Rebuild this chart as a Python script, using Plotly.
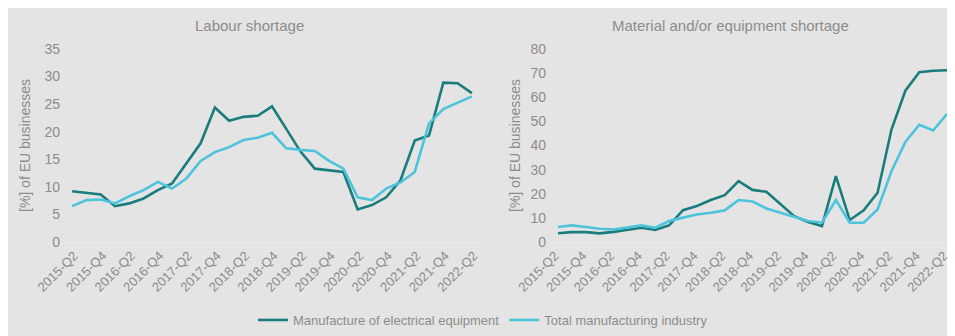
import plotly.graph_objects as go
from plotly.subplots import make_subplots

quarters = [f"{y}-Q{q}" for y in range(2015, 2023) for q in range(1, 5)][1:30]
labour_electrical = [9.2, 8.9, 8.6, 6.5, 7.0, 7.9, 9.4, 10.6, 14.3, 17.9, 24.4, 22.0, 22.7, 22.9, 24.6,
                     20.6, 16.4, 13.3, 13.0, 12.7, 5.9, 6.7, 8.1, 11.2, 18.4, 19.3, 28.9, 28.8, 27.0]
labour_total = [6.5, 7.6, 7.7, 7.0, 8.3, 9.4, 10.9, 9.7, 11.5, 14.7, 16.3, 17.2, 18.5, 18.9, 19.8,
                17.0, 16.7, 16.5, 14.7, 13.3, 8.1, 7.6, 9.7, 10.8, 12.7, 21.5, 24.1, 25.3, 26.4]
material_electrical = [3.6, 4.1, 4.1, 3.6, 4.2, 5.2, 5.9, 5.0, 6.9, 13.2, 14.9, 17.4, 19.4, 25.2, 21.6,
                       20.8, 15.6, 10.7, 8.3, 6.6, 27.3, 9.1, 13.1, 20.4, 46.6, 62.7, 70.4, 71.0, 71.2]
material_total = [6.2, 6.9, 6.2, 5.5, 5.2, 6.2, 6.9, 5.9, 8.7, 10.1, 11.4, 12.1, 13.1, 17.4, 16.8,
                  13.9, 12.1, 10.5, 8.7, 8.0, 17.4, 8.0, 8.0, 13.5, 29.3, 41.5, 48.6, 46.2, 53.1]
series_names = ["Manufacture of electrical equipment", "Total manufacturing industry"]
panel_titles = ["Labour shortage", "Material and/or equipment shortage"]
y_title = "[%] of EU businesses"

DARK = "#1a7c7d"
LIGHT = "#4dc3dc"
GRAY_BG = "#e4e4e4"
TXT = "#8c8c8c"
FONT = "Liberation Sans, Arial, sans-serif"

OFF = 8  # page body margin
W, H = 955 - OFF, 336 - OFF
ML, MR, MT, MB = 65 - OFF, 1, 49 - OFF, 336 - 242
PW = W - ML - MR
PH = H - MT - MB

def px_x(p):  # reference pixel -> paper coordinate
    return (p - OFF - ML) / PW

def px_y(p):
    return (H - MB - (p - OFF)) / PH

fig = make_subplots(rows=1, cols=2)
xs = list(range(len(quarters)))

for col, (a, b) in enumerate([(labour_electrical, labour_total), (material_electrical, material_total)], start=1):
    fig.add_trace(go.Scatter(x=xs, y=a, mode="lines", name=series_names[0],
                             line=dict(color=DARK, width=2.6), showlegend=(col == 1)), row=1, col=col)
    fig.add_trace(go.Scatter(x=xs, y=b, mode="lines", name=series_names[1],
                             line=dict(color=LIGHT, width=2.6), showlegend=(col == 1)), row=1, col=col)

tickvals = xs[::2]
ticktext = quarters[::2]
xdoms = [[0, px_x(479)], [px_x(551), 1.0]]
shifts = [2, -3]
for i, ax in enumerate(["xaxis", "xaxis2"]):
    fig.layout[ax].update(domain=xdoms[i], range=[-0.5, len(quarters) - 0.5], tickvals=tickvals,
                          ticktext=ticktext, tickangle=-45, showgrid=False, zeroline=False,
                          showline=True, linecolor="#ececec", linewidth=1, ticklabelshift=shifts[i],
                          tickfont=dict(family=FONT, size=13, color=TXT))
fig.layout.yaxis.update(range=[0, 35], dtick=5, showgrid=False, zeroline=False,
                        tickfont=dict(family=FONT, size=14, color=TXT), ticklabelstandoff=4)
fig.layout.yaxis2.update(range=[0, 80], dtick=10, showgrid=False, zeroline=False,
                         tickfont=dict(family=FONT, size=14, color=TXT), ticklabelstandoff=4)

anns = []
for text, xp in [(panel_titles[0], 249), (panel_titles[1], 730)]:
    anns.append(dict(text=text, x=px_x(xp), y=px_y(25), xref="paper", yref="paper",
                     showarrow=False, xanchor="center", yanchor="middle",
                     font=dict(family=FONT, size=15, color=TXT)))
for xp in [25, 515]:
    anns.append(dict(text=y_title, x=px_x(xp), y=px_y(146), xref="paper", yref="paper",
                     showarrow=False, xanchor="center", yanchor="middle", textangle=-90,
                     font=dict(family=FONT, size=14, color=TXT)))

fig.update_layout(
    width=W, height=H,
    margin=dict(l=ML, r=MR, t=MT, b=MB, autoexpand=False),
    paper_bgcolor=GRAY_BG,
    plot_bgcolor=GRAY_BG,
    annotations=anns,
    legend=dict(orientation="h", x=px_x(483), y=px_y(320), xanchor="center", yanchor="middle",
                font=dict(family=FONT, size=13, color=TXT), bgcolor="rgba(0,0,0,0)",
                itemwidth=30, tracegroupgap=0),
    font=dict(family=FONT, color=TXT),
)

fig.write_html("out.html")
